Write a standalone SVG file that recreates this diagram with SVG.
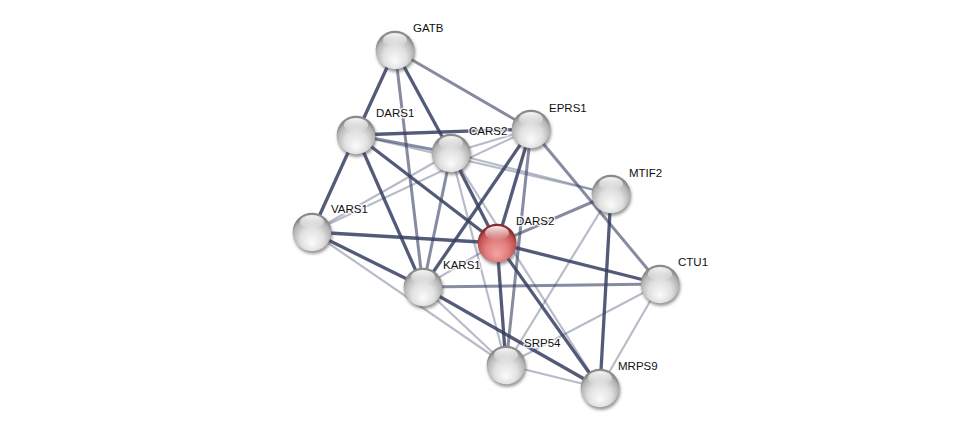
<svg xmlns="http://www.w3.org/2000/svg" xmlns:xlink="http://www.w3.org/1999/xlink" width="976" height="433" viewBox="0 0 976 433">
<style>
.e{stroke:#353e62;fill:none;stroke-linecap:butt}
.s{stroke-width:3.3;stroke-opacity:0.85}
.m{stroke-width:3;stroke-opacity:0.6}
.l{stroke-width:2.2;stroke-opacity:0.35}
.lab{font-family:"Liberation Sans",Arial,sans-serif;font-size:11.5px;fill:#111;stroke:#fff;stroke-width:3;stroke-opacity:0.75;paint-order:stroke;stroke-linejoin:round}
</style>
<defs>
<radialGradient id="gg" cx="0.5" cy="0.62" r="0.55" fx="0.5" fy="0.8">
<stop offset="0" stop-color="#fbfbfb"/>
<stop offset="0.55" stop-color="#e0e0e0"/>
<stop offset="0.88" stop-color="#b4b4b4"/>
<stop offset="1" stop-color="#8a8a8a"/>
</radialGradient>
<radialGradient id="rg" cx="0.5" cy="0.62" r="0.55" fx="0.5" fy="0.8">
<stop offset="0" stop-color="#f6a4a4"/>
<stop offset="0.55" stop-color="#e07c7c"/>
<stop offset="0.88" stop-color="#c05050"/>
<stop offset="1" stop-color="#8a2c2c"/>
</radialGradient>
<linearGradient id="hl" x1="0" y1="0" x2="0" y2="1">
<stop offset="0" stop-color="#fff" stop-opacity="0.95"/>
<stop offset="1" stop-color="#fff" stop-opacity="0"/>
</linearGradient>
<filter id="blur" x="-50%" y="-50%" width="200%" height="200%"><feGaussianBlur stdDeviation="1.6"/></filter>
<g id="ball">
<circle cx="1" cy="2.5" r="19.5" fill="#444" fill-opacity="0.55" filter="url(#blur)"/>
<circle r="19.3" fill="url(#gg)"/>
<ellipse cx="0" cy="-10" rx="12" ry="7" fill="url(#hl)"/>
</g>
<g id="redball">
<circle cx="1" cy="2.5" r="19.5" fill="#444" fill-opacity="0.55" filter="url(#blur)"/>
<circle r="19.3" fill="url(#rg)"/>
<ellipse cx="0" cy="-10" rx="12" ry="7" fill="url(#hl)"/>
</g>
</defs>
<rect width="976" height="433" fill="#fff"/>
<g id="edges">
<line class="e l" x1="356" y1="135" x2="611" y2="194"/>
<line class="e l" x1="451" y1="153" x2="611" y2="194"/>
<line class="e l" x1="451" y1="153" x2="531" y2="129"/>
<line class="e l" x1="312" y1="232" x2="451" y2="153"/>
<line class="e l" x1="312" y1="232" x2="531" y2="129"/>
<line class="e l" x1="312" y1="232" x2="506" y2="365"/>
<line class="e l" x1="423" y1="287" x2="506" y2="365"/>
<line class="e l" x1="423" y1="287" x2="497" y2="243"/>
<line class="e l" x1="451" y1="153" x2="506" y2="365"/>
<line class="e l" x1="451" y1="153" x2="600" y2="388"/>
<line class="e l" x1="611" y1="194" x2="506" y2="365"/>
<line class="e l" x1="660" y1="284" x2="506" y2="365"/>
<line class="e l" x1="660" y1="284" x2="600" y2="388"/>
<line class="e l" x1="506" y1="365" x2="600" y2="388"/>
<line class="e m" x1="356" y1="135" x2="451" y2="153"/>
<line class="e m" x1="395" y1="50" x2="423" y2="287"/>
<line class="e m" x1="395" y1="50" x2="531" y2="129"/>
<line class="e m" x1="497" y1="243" x2="611" y2="194"/>
<line class="e m" x1="423" y1="287" x2="660" y2="284"/>
<line class="e m" x1="531" y1="129" x2="506" y2="365"/>
<line class="e m" x1="531" y1="129" x2="660" y2="284"/>
<line class="e m" x1="451" y1="153" x2="423" y2="287"/>
<line class="e s" x1="395" y1="50" x2="356" y2="135"/>
<line class="e s" x1="395" y1="50" x2="451" y2="153"/>
<line class="e s" x1="356" y1="135" x2="312" y2="232"/>
<line class="e s" x1="356" y1="135" x2="423" y2="287"/>
<line class="e s" x1="356" y1="135" x2="497" y2="243"/>
<line class="e s" x1="356" y1="135" x2="531" y2="129"/>
<line class="e s" x1="451" y1="153" x2="497" y2="243"/>
<line class="e s" x1="531" y1="129" x2="423" y2="287"/>
<line class="e s" x1="531" y1="129" x2="497" y2="243"/>
<line class="e s" x1="312" y1="232" x2="423" y2="287"/>
<line class="e s" x1="312" y1="232" x2="497" y2="243"/>
<line class="e s" x1="497" y1="243" x2="660" y2="284"/>
<line class="e s" x1="497" y1="243" x2="506" y2="365"/>
<line class="e s" x1="497" y1="243" x2="600" y2="388"/>
<line class="e s" x1="423" y1="287" x2="600" y2="388"/>
<line class="e s" x1="611" y1="194" x2="600" y2="388"/>
</g>
<g id="node-GATB" transform="translate(395,50)"><use xlink:href="#ball"/><text class="lab" x="18" y="-18">GATB</text></g>
<g id="node-DARS1" transform="translate(356,135)"><use xlink:href="#ball"/><text class="lab" x="20" y="-18">DARS1</text></g>
<g id="node-EPRS1" transform="translate(531,129)"><use xlink:href="#ball"/><text class="lab" x="18" y="-17">EPRS1</text></g>
<g id="node-CARS2" transform="translate(451,153)"><use xlink:href="#ball"/><text class="lab" x="18" y="-18">CARS2</text></g>
<g id="node-MTIF2" transform="translate(611,194)"><use xlink:href="#ball"/><text class="lab" x="18" y="-17">MTIF2</text></g>
<g id="node-VARS1" transform="translate(312,232)"><use xlink:href="#ball"/><text class="lab" x="19" y="-19">VARS1</text></g>
<g id="node-DARS2" transform="translate(497,243)"><use xlink:href="#redball"/><text class="lab" x="19" y="-18">DARS2</text></g>
<g id="node-KARS1" transform="translate(423,287)"><use xlink:href="#ball"/><text class="lab" x="20" y="-18">KARS1</text></g>
<g id="node-CTU1" transform="translate(660,284)"><use xlink:href="#ball"/><text class="lab" x="18" y="-18">CTU1</text></g>
<g id="node-SRP54" transform="translate(506,365)"><use xlink:href="#ball"/><text class="lab" x="18" y="-18">SRP54</text></g>
<g id="node-MRPS9" transform="translate(600,388)"><use xlink:href="#ball"/><text class="lab" x="18" y="-18">MRPS9</text></g>
</svg>
